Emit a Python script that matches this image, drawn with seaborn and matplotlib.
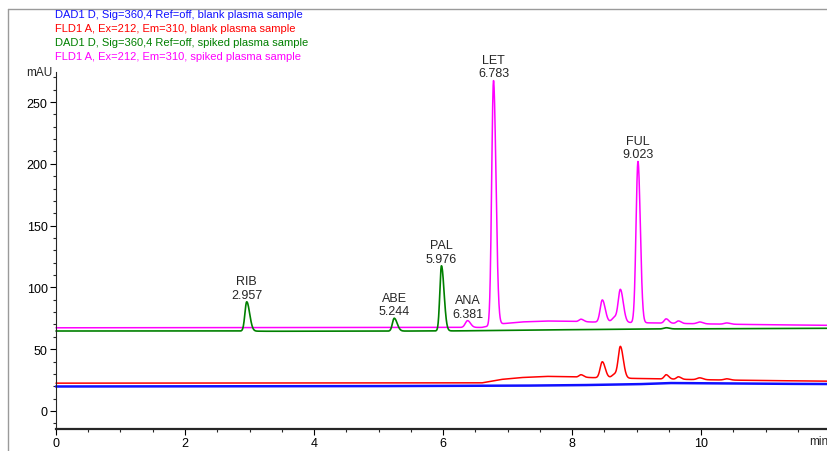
import numpy as np
import pandas as pd
import matplotlib
matplotlib.use("Agg")
import matplotlib.pyplot as plt
from matplotlib.lines import Line2D
from matplotlib.ticker import MultipleLocator
import seaborn as sns

# ---------------- data ----------------
legend_labels = [
    "DAD1 D, Sig=360,4 Ref=off, blank plasma sample",
    "FLD1 A, Ex=212, Em=310, blank plasma sample",
    "DAD1 D, Sig=360,4 Ref=off, spiked plasma sample",
    "FLD1 A, Ex=212, Em=310, spiked plasma sample",
]
colors = ["#1010ff", "#ff0000", "#008000", "#ff00ff"]

# baselines (knots, mAU)
blue_base_t = [0, 4, 7, 8, 9, 9.5, 10, 11, 12]
blue_base_y = [19.8, 20.0, 20.4, 20.8, 21.6, 22.6, 22.4, 22.0, 21.8]

pink_base_t = [0, 6.6, 6.9, 7.2, 7.6, 8.0, 8.3, 9.3, 10.0, 11.0, 12.0]
pink_base_y = [67.3, 67.6, 70.5, 72.0, 72.8, 72.5, 72.0, 71.2, 70.5, 69.8, 69.3]

red_base_t = [0, 6.6, 6.9, 7.2, 7.6, 8.0, 8.3, 9.3, 10.0, 11.0, 12.0]
red_base_y = [22.5, 22.7, 25.5, 27.0, 28.0, 27.6, 27.0, 26.0, 25.3, 24.6, 24.1]

green_base_t = [0, 2.8, 3.3, 5.0, 6.2, 7.0, 8.0, 9.0, 10.0, 12.0]
green_base_y = [64.7, 64.7, 64.5, 64.6, 64.8, 65.2, 65.8, 66.2, 66.5, 66.9]

# peaks: retention time, height above baseline, left / right width (min)
green_rt = [2.957, 5.244, 5.976, 9.46]
green_h = [23.7, 10.4, 52.7, 1.0]
green_wl = [0.028, 0.028, 0.025, 0.04]
green_wr = [0.045, 0.045, 0.040, 0.05]

pink_rt = [6.381, 6.783, 8.14, 8.47, 8.66, 8.75, 9.023, 9.46, 9.65, 9.98, 10.40]
pink_h = [5.5, 198.0, 2.0, 18.0, 4.0, 26.5, 130.5, 3.5, 2.0, 1.5, 1.0]
pink_wl = [0.035, 0.028, 0.03, 0.033, 0.04, 0.033, 0.030, 0.03, 0.03, 0.04, 0.04]
pink_wr = [0.045, 0.038, 0.04, 0.045, 0.04, 0.045, 0.036, 0.04, 0.04, 0.05, 0.05]

red_rt = [8.14, 8.47, 8.66, 8.75, 9.46, 9.65, 9.98, 10.40]
red_h = [2.0, 13.0, 3.0, 25.5, 3.5, 2.0, 1.5, 1.0]
red_wl = [0.03, 0.033, 0.04, 0.033, 0.03, 0.03, 0.04, 0.04]
red_wr = [0.04, 0.045, 0.04, 0.045, 0.04, 0.04, 0.05, 0.05]

label_names = ["RIB", "ABE", "PAL", "ANA", "LET", "FUL"]
label_times = [2.957, 5.244, 5.976, 6.381, 6.783, 9.023]
label_trace = ["green", "green", "green", "pink", "pink", "pink"]

y_ticks = [0, 50, 100, 150, 200, 250]
x_ticks = [0, 2, 4, 6, 8, 10]

# ---------------- build traces ----------------
t = np.linspace(0, 12, 4801)


def trace(bt, by, rts, hs, wls, wrs):
    y = np.interp(t, bt, by)
    for rt, h, wl, wr in zip(rts, hs, wls, wrs):
        s = np.where(t < rt, wl, wr)
        y = y + h * np.exp(-0.5 * ((t - rt) / s) ** 2)
    return y


traces = {
    "blue": trace(blue_base_t, blue_base_y, [], [], [], []),
    "red": trace(red_base_t, red_base_y, red_rt, red_h, red_wl, red_wr),
    "pink": trace(pink_base_t, pink_base_y, pink_rt, pink_h, pink_wl, pink_wr),
    "green": trace(green_base_t, green_base_y, green_rt, green_h, green_wl, green_wr),
}

# ---------------- plot ----------------
sns.set_style("ticks")
plt.rcParams["font.family"] = ["Liberation Sans", "DejaVu Sans"]

W, H = 828, 452
fig = plt.figure(figsize=(W / 100, H / 100), dpi=100)
ax = fig.add_axes([56 / W, 1 - 430 / H, 1 - 56 / W, (430 - 73) / H])

order = [("blue", colors[0], 1.8), ("red", colors[1], 1.1),
         ("pink", colors[3], 1.1), ("green", colors[2], 1.2)]
for key, c, lw in order:
    df = pd.DataFrame({"t": t, "y": traces[key]})
    sns.lineplot(data=df, x="t", y="y", color=c, lw=lw, ax=ax,
                 estimator=None, sort=False, clip_on=False)

ax.set_xlim(0, (W - 56) / 64.5)
ax.set_ylim(-14.6, 274.3)
ax.set_xlabel("")
ax.set_ylabel("")
ax.set_xticks(x_ticks)
ax.set_yticks(y_ticks)
ax.xaxis.set_minor_locator(MultipleLocator(0.5))
ax.yaxis.set_minor_locator(MultipleLocator(10))
ax.tick_params(axis="both", which="major", length=4, width=0.8, labelsize=9,
               colors="black", pad=2)
ax.tick_params(axis="both", which="minor", length=2.5, width=0.8)
ax.spines["top"].set_visible(False)
ax.spines["right"].set_visible(False)
ax.spines["left"].set_linewidth(0.8)
ax.spines["bottom"].set_linewidth(1.6)

# peak labels
for name, rt, key in zip(label_names, label_times, label_trace):
    m = (t > rt - 0.05) & (t < rt + 0.05)
    ytop = traces[key][m].max()
    ax.annotate(f"{name}\n{rt:.3f}", xy=(rt, ytop), xytext=(0, 0.8),
                textcoords="offset points", ha="center", va="bottom",
                fontsize=9, linespacing=1.15, annotation_clip=False)

# axis unit labels
fig.text(52 / W, 1 - 73 / H, "mAU", ha="right", va="center", fontsize=8.5)
fig.text(809 / W, 1 - 442 / H, "min", ha="left", va="center", fontsize=8.5)

# legend text
for i, (lab, c) in enumerate(zip(legend_labels, colors)):
    fig.text(55 / W, 1 - (15.5 + 14 * i) / H, lab, color=c, fontsize=8,
             ha="left", va="center")

# outer frame
fig.add_artist(Line2D([8 / W, 8 / W], [0, 1 - 10 / H], color="#9a9a9a",
                      lw=1, transform=fig.transFigure))
fig.add_artist(Line2D([8 / W, 1], [1 - 10 / H, 1 - 10 / H], color="#9a9a9a",
                      lw=1, transform=fig.transFigure))

fig.savefig("out.png", dpi=100)
